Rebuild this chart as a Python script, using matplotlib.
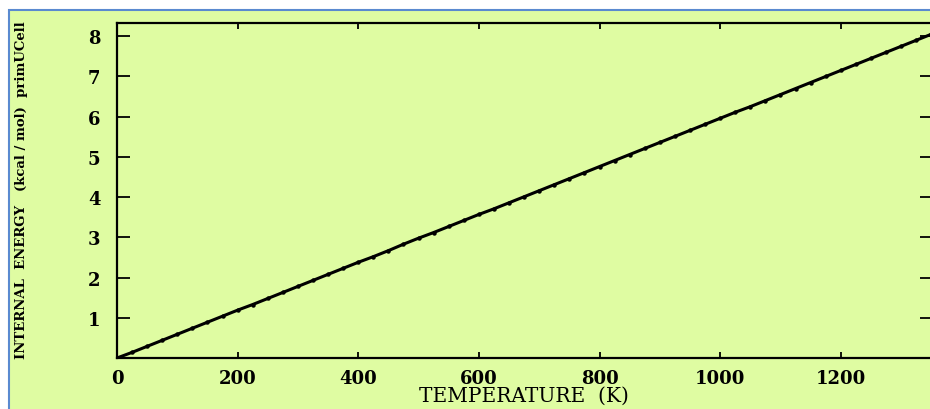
import numpy as np
import matplotlib.pyplot as plt
from matplotlib.patches import Rectangle

# internal energy per primitive cell vs temperature
temperature = [0, 25, 50, 75, 100, 125, 150, 175, 200, 225, 250, 275, 300, 325, 350,
               375, 400, 425, 450, 475, 500, 525, 550, 575, 600, 625, 650, 675, 700,
               725, 750, 775, 800, 825, 850, 875, 900, 925, 950, 975, 1000, 1025,
               1050, 1075, 1100, 1125, 1150, 1175, 1200, 1225, 1250, 1275, 1300,
               1325, 1350]
energy = [0.00, 0.14, 0.29, 0.44, 0.59, 0.74, 0.89, 1.04, 1.19, 1.33, 1.48, 1.63,
          1.78, 1.93, 2.08, 2.23, 2.38, 2.52, 2.67, 2.83, 2.98, 3.12, 3.27, 3.42,
          3.57, 3.71, 3.86, 4.01, 4.16, 4.31, 4.46, 4.61, 4.76, 4.91, 5.06, 5.21,
          5.36, 5.51, 5.66, 5.81, 5.96, 6.11, 6.25, 6.40, 6.55, 6.70, 6.85, 7.00,
          7.15, 7.30, 7.45, 7.60, 7.75, 7.90, 8.05]
yticks = [1, 2, 3, 4, 5, 6, 7, 8]
xticks = [0, 200, 400, 600, 800, 1000, 1200]

bg = '#dffca2'
fig = plt.figure(figsize=(9.3, 4.1), dpi=100, facecolor='white')
# panel background with the blue frame on the top and left
fig.patches.append(Rectangle((9 / 930, -0.01), 1.0, 1 - 11 / 410 + 0.01,
                             transform=fig.transFigure, facecolor=bg,
                             edgecolor='#5a8ad0', linewidth=1.5, zorder=-5))

ax = fig.add_axes([117 / 930, 51 / 410, 1 - 117 / 930 + 0.002, (359 - 24) / 410])
ax.set_facecolor(bg)
ax.plot(temperature, energy, color='black', linewidth=2.2, marker='o',
        markersize=2.2)

ax.set_xlim(0, 1351)
ax.set_ylim(0, 8.33)
ax.set_xticks(xticks)
ax.set_yticks(yticks)

font = {'family': 'DejaVu Serif', 'weight': 'semibold'}
ax.set_xticklabels([str(t) for t in xticks], fontdict=dict(font, size=13))
ax.set_yticklabels([str(t) for t in yticks], fontdict=dict(font, size=13))
ax.tick_params(axis='y', which='both', direction='in', length=9, width=1.3,
               right=True, pad=12)
ax.tick_params(axis='x', which='both', direction='in', length=4, width=1.3,
               top=True, pad=8)
for s in ax.spines.values():
    s.set_linewidth(1.6)

ax.set_xlabel('TEMPERATURE  (K)', family='DejaVu Serif', size=14.5,
              labelpad=-1)
fig.text(22 / 930, 0.537, 'INTERNAL  ENERGY   (kcal / mol)  primUCell',
         rotation=90, ha='center', va='center', family='DejaVu Serif',
         weight='bold', size=9.5)

fig.savefig('out.png', dpi=100, facecolor='white')
